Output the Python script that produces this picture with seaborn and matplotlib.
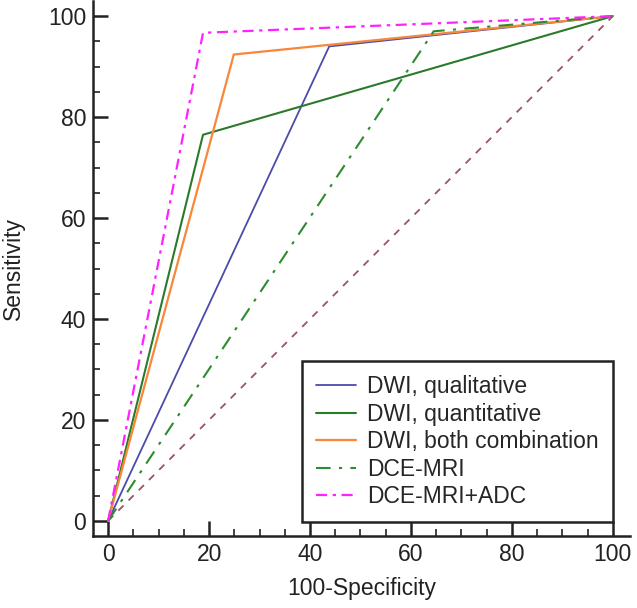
import matplotlib
matplotlib.use("Agg")
import matplotlib.pyplot as plt
import seaborn as sns
import pandas as pd
from matplotlib.ticker import MultipleLocator

# ---- data (100-Specificity, Sensitivity) ----
qual_x = [0, 43.8, 100]
qual_y = [0, 94.0, 100]
quant_x = [0, 18.8, 100]
quant_y = [0, 76.5, 100]
comb_x = [0, 24.9, 100]
comb_y = [0, 92.4, 100]
dce_x = [0, 64.5, 100]
dce_y = [0, 97.0, 100]
dceadc_x = [0, 18.8, 100]
dceadc_y = [0, 96.7, 100]
diag_x = [0, 100]
diag_y = [0, 100]

labels = ["DWI, qualitative", "DWI, quantitative", "DWI, both combination",
          "DCE-MRI", "DCE-MRI+ADC"]

sns.set_style("ticks")
plt.rcParams['font.family'] = ['Liberation Sans', 'DejaVu Sans']

FS = 16.5
fig = plt.figure(figsize=(6.37, 6.08), dpi=100)
ax = fig.add_axes([93/637, 1 - 536/608, 537/637, 535/608])

sns.lineplot(x=diag_x, y=diag_y, ax=ax, color="#a2505e", lw=1.3,
             linestyle=(0, (4, 4)), sort=False, estimator=None)
sns.lineplot(x=qual_x, y=qual_y, ax=ax, color="#4b4bab", lw=1.3,
             sort=False, estimator=None, label=labels[0])
sns.lineplot(x=quant_x, y=quant_y, ax=ax, color="#2b7a2b", lw=1.5,
             sort=False, estimator=None, label=labels[1])
sns.lineplot(x=comb_x, y=comb_y, ax=ax, color="#f7873a", lw=1.6,
             sort=False, estimator=None, label=labels[2])
sns.lineplot(x=dce_x, y=dce_y, ax=ax, color="#2e8b2e", lw=1.5,
             linestyle=(0, (7, 4, 1.5, 4)), sort=False, estimator=None, label=labels[3])
sns.lineplot(x=dceadc_x, y=dceadc_y, ax=ax, color="#ff22ff", lw=1.6,
             linestyle=(0, (5, 2.5, 1.5, 2.5)), sort=False, estimator=None, label=labels[4])

ax.set_xlim(-3, 103.4)
ax.set_ylim(-3, 103)
ax.set_xticks([0, 20, 40, 60, 80, 100])
ax.set_yticks([0, 20, 40, 60, 80, 100])
ax.xaxis.set_minor_locator(MultipleLocator(5))
ax.yaxis.set_minor_locator(MultipleLocator(5))
ax.tick_params(which='major', direction='in', length=11, width=1.8,
               labelsize=FS, colors='#222222', pad=5)
ax.tick_params(which='minor', direction='in', length=5, width=1.2, colors='#222222')
for s in ['top', 'right']:
    ax.spines[s].set_visible(False)
for s in ['left', 'bottom']:
    ax.spines[s].set_linewidth(1.8)
    ax.spines[s].set_color('#222222')

ax.set_xlabel("100-Specificity", fontsize=FS, color='#222222', labelpad=8)
ax.set_ylabel("Sensitivity", fontsize=FS, color='#222222', va='center')
ax.yaxis.set_label_coords(-0.149, 0.5)

leg = ax.legend(loc='lower right', bbox_to_anchor=(0.968, 0.026), borderaxespad=0,
                fontsize=FS, frameon=True, fancybox=False, framealpha=1,
                edgecolor='#222222', handlelength=1.75, handletextpad=0.5,
                labelspacing=0.2, borderpad=0.6)
leg.get_frame().set_linewidth(1.8)

fig.savefig("out.png", dpi=100)
